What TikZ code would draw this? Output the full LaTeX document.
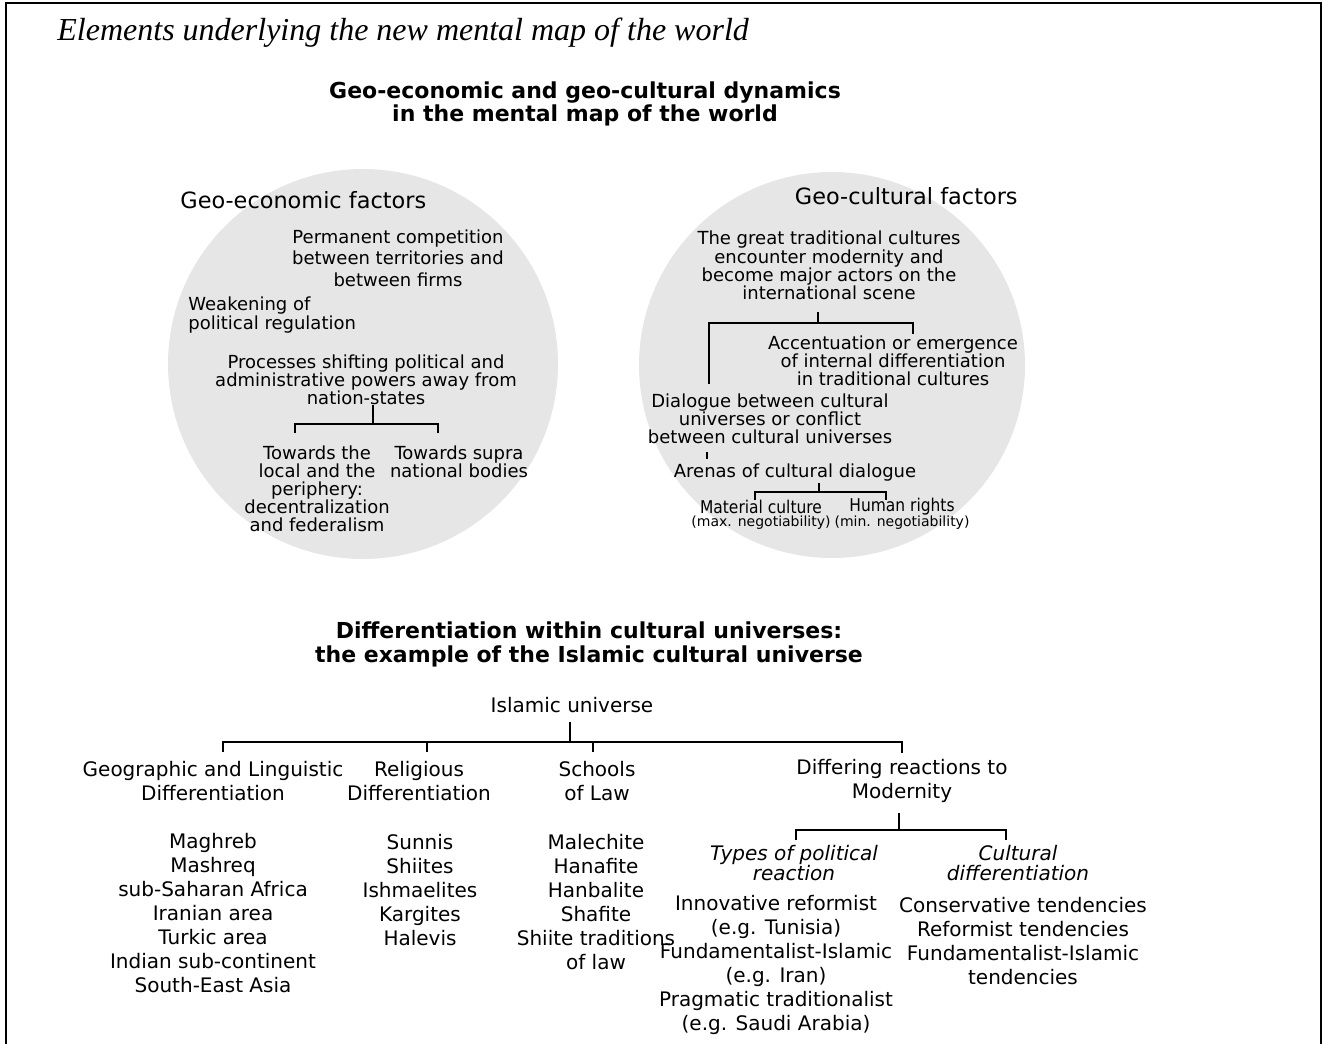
\documentclass[tikz,border=0pt]{standalone}
\usepackage{fontspec}
\setmainfont{DejaVu Sans}
\newfontfamily\serifit{Liberation Serif}
\newfontfamily\condf[FakeStretch=0.88]{DejaVu Sans}
\definecolor{circgray}{RGB}{230,230,230}
\begin{document}
\begin{tikzpicture}[x=0.5pt,y=-0.5pt,
  txt/.style={inner sep=0pt, align=center},
  cbody/.style={txt, font=\fontsize{9}{9}\selectfont},
  chead/.style={txt, font=\fontsize{11.2}{12}\selectfont},
  bhead/.style={txt, font=\bfseries\fontsize{11}{11.75}\selectfont},
  lbody/.style={txt, font=\fontsize{10}{12}\selectfont},
  litalic/.style={txt, font=\itshape\fontsize{10}{10}\selectfont},
  cond/.style={txt, font=\condf\fontsize{8.8}{9}\selectfont},
  tiny/.style={txt, font=\fontsize{7}{7}\selectfont},
  conn/.style={line width=0.9pt},
  disc/.style={circle, fill=circgray, draw=none, inner sep=0pt}]
\useasboundingbox (0,0) rectangle (1323,1044);
% frame
\draw[line width=1.25pt] (6,1044) -- (6,3) -- (1321,3) -- (1321,1044);
% title
\node[anchor=base west, inner sep=0pt, font=\serifit\itshape\fontsize{16}{16}\selectfont] (title) at (57,40) {Elements underlying the new mental map of the world};
\node[bhead] (head1) at (585,104) {Geo-economic and geo-cultural dynamics\\in the mental map of the world};
% circles
\node[disc, minimum size=195pt] (lcirc) at (363,364) {};
\node[disc, minimum size=193pt] (rcirc) at (832,365) {};
% left circle
\node[chead, anchor=west] (geoecon) at (180,200) {Geo-economic factors};
\node[txt, font=\fontsize{9}{10.75}\selectfont] (perm) at (398,258) {Permanent competition\\between territories and\\between firms};
\node[txt, align=left, anchor=west, font=\fontsize{9}{8.6}\selectfont] (weak) at (188,315) {Weakening of\\political regulation};
\node[cbody] (proc) at (366,380) {Processes shifting political and\\administrative powers away from\\nation-states};
\node[cbody] (towl) at (317,489) {Towards the\\local and the\\periphery:\\decentralization\\and federalism};
\node[cbody] (tows) at (459,462) {Towards supra\\national bodies};
\coordinate (lb) at (373,424);
\draw[conn] (proc.south -| lb) -- (lb);
\draw[conn] (295,433) |- (lb) -| (438,433);
% right circle
\node[chead, anchor=east] (geocult) at (1018,196) {Geo-cultural factors};
\node[txt, font=\fontsize{9}{9.15}\selectfont] (great) at (829,265.5) {The great traditional cultures\\encounter modernity and\\become major actors on the\\international scene};
\node[cbody] (accent) at (893,361) {Accentuation or emergence\\of internal differentiation\\in traditional cultures};
\node[cbody] (dial) at (770,418.5) {Dialogue between cultural\\universes or conflict\\between cultural universes};
\node[cbody] (arenas) at (795,473) {Arenas of cultural dialogue};
\node[cond] (mat) at (761,507) {Material culture};
\node[cond] (human) at (902,507) {Human rights};
\node[tiny] (maxneg) at (761,523) {(max. negotiability)};
\node[tiny] (minneg) at (902,523) {(min. negotiability)};
\coordinate (rb1) at (818,323);
\draw[conn] (818,312) -- (rb1);
\draw[conn] (709,384) |- (rb1) -| (913,334);
\draw[conn] (707,452) -- (707,459);
\coordinate (rb2) at (819,492);
\draw[conn] (819,483) -- (rb2);
\draw[conn] (755,500) |- (rb2) -| (886,500);
% bottom heading
\node[bhead, font=\bfseries\fontsize{11}{12}\selectfont] (head2) at (589,644) {Differentiation within cultural universes:\\the example of the Islamic cultural universe};
% Islamic tree
\node[lbody] (isl) at (572,705) {Islamic universe};
\coordinate (ib) at (570,742);
\draw[conn] (570,722) -- (ib);
\draw[conn] (223,752) |- (ib) -| (902,753);
\draw[conn] (427,742) -- (427,752);
\draw[conn] (593,742) -- (593,752);
\node[lbody] (geo) at (213,781.5) {Geographic and Linguistic\\Differentiation};
\node[lbody] (rel) at (419,781.5) {Religious\\Differentiation};
\node[lbody] (sch) at (597,781.5) {Schools\\of Law};
\node[lbody] (diff) at (902,780.5) {Differing reactions to\\Modernity};
\node[lbody] (list1) at (213,913.5) {Maghreb\\Mashreq\\sub-Saharan Africa\\Iranian area\\Turkic area\\Indian sub-continent\\South-East Asia};
\node[lbody] (list2) at (420,890) {Sunnis\\Shiites\\Ishmaelites\\Kargites\\Halevis};
\node[lbody] (list3) at (596,902) {Malechite\\Hanafite\\Hanbalite\\Shafite\\Shiite traditions\\of law};
\coordinate (db) at (899,830);
\draw[conn] (899,813) -- (db);
\draw[conn] (796,840) |- (db) -| (1006,840);
\node[litalic] (types) at (794,863) {Types of political\\reaction};
\node[litalic] (cultd) at (1018,863) {Cultural\\differentiation};
\node[lbody] (list4) at (776,965) {Innovative reformist\\(e.g. Tunisia)\\Fundamentalist-Islamic\\(e.g. Iran)\\Pragmatic traditionalist\\(e.g. Saudi Arabia)};
\node[lbody] (list5) at (1023,941) {Conservative tendencies\\Reformist tendencies\\Fundamentalist-Islamic\\tendencies};
\end{tikzpicture}
\end{document}
